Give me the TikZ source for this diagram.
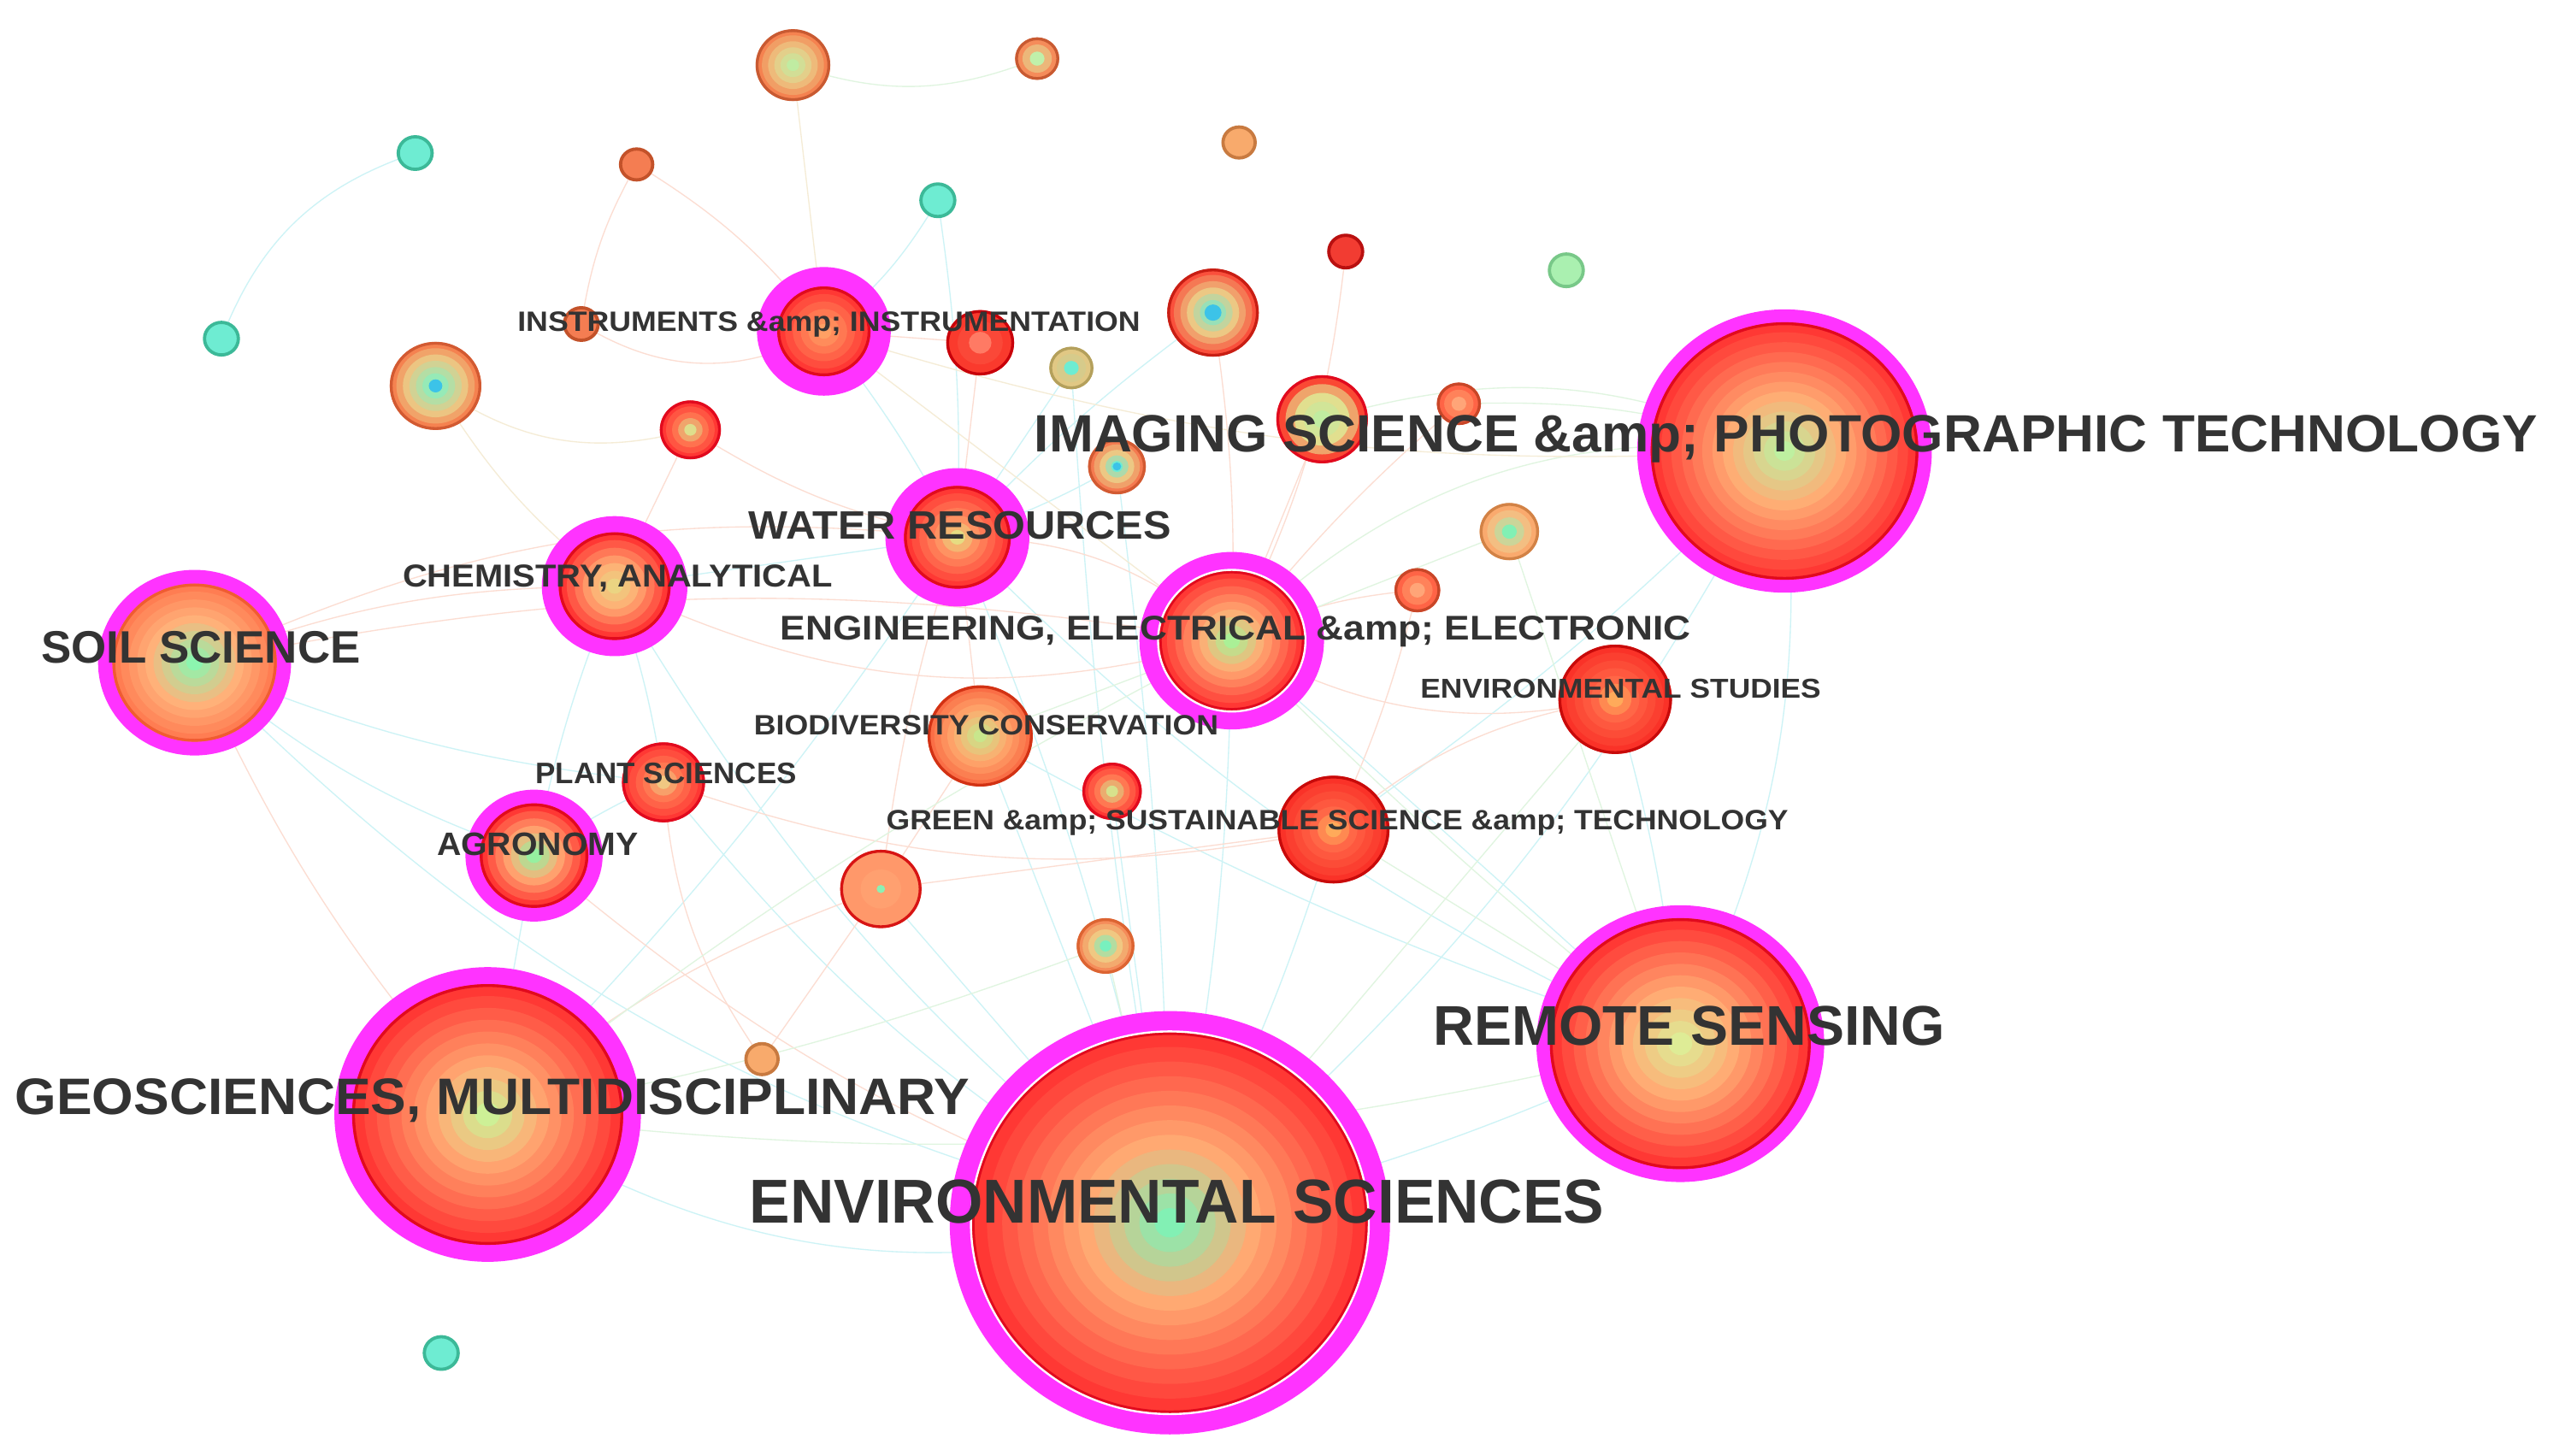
\documentclass[tikz,border=0pt]{standalone}
\usepackage{fontspec}
\setmainfont{Liberation Sans}
\usepackage{graphicx}
\newdimen\pxu \pxu=0.2mm
\definecolor{mag}{RGB}{255,51,255}
\definecolor{txt}{RGB}{51,51,51}
\definecolor{ecy}{RGB}{205,243,246}
\definecolor{epk}{RGB}{252,221,210}
\definecolor{egr}{RGB}{224,245,224}
\definecolor{ebg}{RGB}{245,236,214}
\definecolor{cred}{RGB}{255,56,52}
\definecolor{cdred}{RGB}{225,10,30}
\definecolor{corg}{RGB}{255,120,82}
\definecolor{cpch}{RGB}{255,172,116}
\definecolor{cteal}{RGB}{110,236,210}
\definecolor{cblue}{RGB}{60,195,232}
\definecolor{tealb}{RGB}{60,185,152}
\definecolor{orgA}{RGB}{244,125,82}
\definecolor{orgAb}{RGB}{195,82,42}
\definecolor{lorg}{RGB}{248,170,108}
\definecolor{lorgb}{RGB}{200,122,64}
\definecolor{rsol}{RGB}{242,60,50}
\definecolor{rsolb}{RGB}{185,16,16}
\definecolor{lgr}{RGB}{170,240,176}
\definecolor{lgrb}{RGB}{120,200,136}
\definecolor{aA}{RGB}{245,140,90}
\definecolor{aB}{RGB}{245,172,112}
\definecolor{aC}{RGB}{192,240,170}
\definecolor{aD}{RGB}{200,90,50}
\definecolor{bA}{RGB}{245,130,80}
\definecolor{bB}{RGB}{236,200,132}
\definecolor{bC}{RGB}{192,236,162}
\definecolor{tanA}{RGB}{225,200,132}
\definecolor{tanAb}{RGB}{180,160,92}
\definecolor{rA}{RGB}{250,58,45}
\definecolor{rB}{RGB}{250,72,56}
\definecolor{rC}{RGB}{255,122,100}
\definecolor{rD}{RGB}{200,0,10}
\definecolor{cA}{RGB}{250,80,60}
\definecolor{cD}{RGB}{200,30,20}
\definecolor{dA}{RGB}{245,122,80}
\definecolor{dD}{RGB}{210,90,50}
\definecolor{yelA}{RGB}{222,222,140}
\definecolor{tealg}{RGB}{120,245,200}
\definecolor{eA}{RGB}{250,72,52}
\definecolor{eB}{RGB}{232,220,140}
\definecolor{eC}{RGB}{192,236,160}
\definecolor{fA}{RGB}{255,100,70}
\definecolor{fB}{RGB}{255,130,90}
\definecolor{fC}{RGB}{255,165,120}
\definecolor{fD}{RGB}{200,70,40}
\definecolor{gA}{RGB}{250,170,110}
\definecolor{gB}{RGB}{240,200,140}
\definecolor{gC}{RGB}{130,240,180}
\definecolor{gD}{RGB}{210,130,70}
\definecolor{yelB}{RGB}{215,225,140}
\definecolor{hC}{RGB}{120,240,190}
\definecolor{hD}{RGB}{220,100,50}
\definecolor{pA}{RGB}{255,152,106}
\definecolor{pB}{RGB}{255,154,108}
\definecolor{pC}{RGB}{255,160,112}
\definecolor{pD}{RGB}{215,20,20}
\definecolor{pG}{RGB}{140,240,180}
\definecolor{yelC}{RGB}{240,200,130}
\definecolor{iA}{RGB}{250,110,70}
\definecolor{iB}{RGB}{255,170,110}
\definecolor{iC}{RGB}{200,230,140}
\definecolor{iD}{RGB}{210,50,20}
\definecolor{jA}{RGB}{250,50,40}
\definecolor{jB}{RGB}{255,100,70}
\definecolor{jC}{RGB}{255,170,90}
\definecolor{jD}{RGB}{200,10,10}
\definecolor{kC}{RGB}{255,160,100}
\definecolor{mAgr}{RGB}{150,240,160}
\definecolor{mChem}{RGB}{235,212,130}
\definecolor{wB}{RGB}{255,150,100}
\definecolor{wC}{RGB}{230,220,130}
\definecolor{mEng}{RGB}{170,240,150}
\definecolor{sA}{RGB}{255,125,82}
\definecolor{sB}{RGB}{255,178,122}
\definecolor{sC}{RGB}{140,245,175}
\definecolor{sD}{RGB}{240,92,50}
\definecolor{mGeo}{RGB}{205,240,150}
\definecolor{mRs}{RGB}{222,236,150}
\definecolor{mImg}{RGB}{190,240,160}
\definecolor{mEs}{RGB}{130,240,180}
\newcommand\cdisc[8]{%
  \foreach \cdk in {1,...,#6}{%
    \pgfmathsetmacro\cdu{1-(\cdk-1)/#6}%
    \pgfmathsetmacro\cdv{1-(\cdk-1)/(#6-1)}%
    \pgfmathsetmacro\cdry{#2*\cdu*0.2}%
    \pgfmathsetmacro\cdrx{\cdry*1.04}%
    \ifdim\cdv pt<#7pt
      \pgfmathsetmacro\cdp{100*\cdv/#7}%
      \fill[#4!\cdp!#5] (#1) ellipse [x radius=\cdrx mm, y radius=\cdry mm];%
    \else
      \pgfmathsetmacro\cdp{100*(\cdv-#7)/(1-#7)}%
      \fill[#3!\cdp!#4] (#1) ellipse [x radius=\cdrx mm, y radius=\cdry mm];%
    \fi
  }%
  \pgfmathsetmacro\cdry{(#2-0.8)*0.2}\pgfmathsetmacro\cdrx{\cdry*1.04}%
  \draw[#8, line width=0.35mm] (#1) ellipse [x radius=\cdrx mm, y radius=\cdry mm];%
}
\newcommand\sdisc[4]{%
  \pgfmathsetmacro\cdry{(#2-1)*0.2}\pgfmathsetmacro\cdrx{\cdry*1.04}%
  \filldraw[fill=#3, draw=#4, line width=0.4mm] (#1) ellipse [x radius=\cdrx mm, y radius=\cdry mm];}
\newcommand\magring[2]{%
  \pgfmathsetmacro\cdry{#2*0.2}\pgfmathsetmacro\cdrx{\cdry*1.04}%
  \fill[mag] (#1) ellipse [x radius=\cdrx mm, y radius=\cdry mm];}
\newcommand\whiteline[2]{%
  \pgfmathsetmacro\cdry{#2*0.2}\pgfmathsetmacro\cdrx{\cdry*1.04}%
  \draw[white, line width=0.25mm] (#1) ellipse [x radius=\cdrx mm, y radius=\cdry mm];}
\newcommand\cendot[3]{%
  \pgfmathsetmacro\cdry{#2*0.2}\pgfmathsetmacro\cdrx{\cdry*1.04}%
  \fill[#3] (#1) ellipse [x radius=\cdrx mm, y radius=\cdry mm];}
\newcommand\mylbl[3]{\resizebox{#1\pxu}{#2\pxu}{\bfseries #3}}
\begin{document}
\begin{tikzpicture}[x=0.2mm,y=-0.2mm,
  lab/.style={anchor=base west, inner sep=0pt, text=txt},
  edge/.style={line width=0.4pt}]
\useasboundingbox (0,0) rectangle (1568,894);
\fill[white] (0,0) rectangle (1568,894);
% ---------- node centres ----------
\coordinate (es) at (718.5,751);
\coordinate (img) at (1096,277);
\coordinate (rs) at (1032,641);
\coordinate (geo) at (299.5,684.5);
\coordinate (soil) at (119.5,407);
\coordinate (eng) at (756.5,393.5);
\coordinate (wat) at (588,330);
\coordinate (chem) at (377.5,360);
\coordinate (agr) at (328,525.5);
\coordinate (inst) at (506,203.5);
\coordinate (envst) at (992,429.5);
\coordinate (grn) at (819,509.5);
\coordinate (bio) at (602,452);
\coordinate (plant) at (407.5,480.5);
\coordinate (n540) at (541,546);
\coordinate (n683) at (683,486);
\coordinate (n679) at (679,581);
\coordinate (o468) at (468,650.5);
\coordinate (t271) at (271,831);
\coordinate (n811) at (812,257.5);
\coordinate (n926) at (927,326.5);
\coordinate (n870) at (870.5,362.5);
\coordinate (n896) at (896,248);
\coordinate (n685) at (686,286.5);
\coordinate (n743) at (745,192);
\coordinate (n657) at (658,226);
\coordinate (n601) at (602,210.5);
\coordinate (n424) at (424,264);
\coordinate (n266) at (267.5,237);
\coordinate (s356) at (357,199);
\coordinate (t136) at (136,208);
\coordinate (t255) at (255,94);
\coordinate (o391) at (391,101);
\coordinate (n487) at (487,40);
\coordinate (n636) at (637,36);
\coordinate (o760) at (761,87.5);
\coordinate (t575) at (576,123);
\coordinate (r825) at (826.5,154.5);
\coordinate (g961) at (962,166);
% ---------- edges ----------
\foreach \a/\b/\bd in {t136/t255/25, t575/wat/5, soil/agr/-10, soil/plant/-8, soil/es/-15,
  chem/es/-10, chem/plant/5, chem/agr/-5, agr/plant/5, agr/geo/0, geo/es/-22, geo/wat/-5,
  eng/es/5, img/rs/15, img/es/10, envst/rs/5, grn/es/5, n685/wat/5, n657/wat/0, n743/wat/-5,
  inst/wat/5, t575/inst/10, bio/es/0, n683/es/0, plant/es/-10, wat/es/5, rs/es/5, n540/es/0,
  chem/wat/0, img/grn/5, eng/rs/0, wat/rs/-10, bio/rs/-5, n685/es/3, n657/es/-3}
  \draw[edge, ecy] (\a) to[bend left=\bd] (\b);
\foreach \a/\b/\bd in {o391/s356/-10, o391/inst/10, s356/inst/-30, r825/eng/10, soil/geo/-8,
  soil/chem/10, soil/wat/15, soil/eng/10, chem/n424/0, agr/es/-10, o468/n540/0, o468/plant/15,
  n540/wat/5, n540/bio/0, bio/wat/0, eng/envst/-20, grn/envst/15, n870/eng/-10, n743/eng/5,
  n601/wat/0, n601/inst/0, n424/wat/-10, wat/eng/20, n811/eng/0, n896/eng/-5, chem/eng/-20,
  plant/grn/-15, n540/grn/0, geo/n540/10, n870/grn/5}
  \draw[edge, epk] (\a) to[bend left=\bd] (\b);
\foreach \a/\b/\bd in {n487/n636/-20, eng/img/25, geo/rs/-10, geo/eng/5, n679/geo/5, n679/es/0,
  grn/rs/0, envst/es/0, n926/eng/0, rs/eng/3, n896/img/10, n811/img/20, n926/rs/0, bio/eng/0}
  \draw[edge, egr] (\a) to[bend left=\bd] (\b);
\foreach \a/\b/\bd in {n266/n424/-25, n487/inst/0, n266/chem/-10, inst/img/-10, inst/eng/0}
  \draw[edge, ebg] (\a) to[bend left=\bd] (\b);
% ---------- small solid nodes ----------
\sdisc{t136}{11}{cteal}{tealb}
\sdisc{t255}{11}{cteal}{tealb}
\sdisc{t575}{11}{cteal}{tealb}
\sdisc{t271}{11}{cteal}{tealb}
\sdisc{o391}{10.5}{orgA}{orgAb}
\sdisc{s356}{11}{orgA}{orgAb}
\sdisc{o760}{10.5}{lorg}{lorgb}
\sdisc{o468}{10.5}{lorg}{lorgb}
\sdisc{r825}{11}{rsol}{rsolb}
\sdisc{g961}{11}{lgr}{lgrb}
% ---------- ringed small/medium nodes ----------
\cdisc{n636}{13}{aA}{aB}{aC}{3}{0.6}{aD}
\cdisc{n487}{22}{bA}{bB}{bC}{6}{0.5}{aD}
\cdisc{n657}{13}{tanA}{tanA}{cteal}{3}{0.55}{tanAb}
\cdisc{n601}{20}{rA}{rB}{rC}{3}{0.5}{rD}
\cdisc{n743}{27}{cA}{bB}{cteal}{7}{0.5}{cD}
\cendot{n743}{5}{cblue}
\cdisc{n685}{17}{dA}{bB}{cteal}{5}{0.5}{dD}
\cendot{n685}{2.5}{cblue}
\cdisc{n424}{18}{cred}{corg}{yelA}{5}{0.45}{cdred}
\cdisc{n266}{27}{bA}{bB}{tealg}{7}{0.65}{dD}
\cendot{n266}{4}{cblue}
\cdisc{n811}{27}{eA}{eB}{eC}{5}{0.6}{cdred}
\cdisc{n896}{13}{fA}{fB}{fC}{3}{0.5}{fD}
\cdisc{n870}{13.5}{fA}{fB}{fC}{3}{0.5}{fD}
\cdisc{n926}{17.5}{gA}{gB}{gC}{4}{0.5}{gD}
\cdisc{n683}{17.5}{cred}{corg}{yelB}{5}{0.5}{cdred}
\cdisc{n679}{17}{aA}{yelC}{hC}{5}{0.5}{hD}
\cdisc{n540}{24}{pA}{pB}{pC}{2}{0.5}{pD}
\cendot{n540}{2.5}{pG}
\cdisc{plant}{24.5}{cred}{corg}{yelC}{6}{0.4}{cdred}
\cdisc{bio}{31}{iA}{iB}{iC}{8}{0.5}{iD}
\cdisc{grn}{33}{jA}{jB}{jC}{7}{0.35}{jD}
\cdisc{envst}{33.5}{jA}{jB}{jC}{7}{0.35}{jD}
% ---------- magenta (central) nodes ----------
\magring{inst}{39.5}
\cdisc{inst}{27.5}{cred}{corg}{kC}{6}{0.4}{cdred}
\magring{agr}{40.5}
\cdisc{agr}{32}{cred}{cpch}{mAgr}{7}{0.45}{cdred}
\magring{chem}{43}
\cdisc{chem}{33}{cred}{cpch}{mChem}{7}{0.4}{cdred}
\magring{wat}{42.5}
\cdisc{wat}{31.5}{cred}{wB}{wC}{7}{0.3}{cdred}
\magring{eng}{54.5}
\cdisc{eng}{43}{cred}{cpch}{mEng}{9}{0.4}{cdred}
\whiteline{eng}{43.5}
\magring{soil}{57}
\cdisc{soil}{48.5}{sA}{sB}{sC}{10}{0.55}{sD}
\magring{geo}{90.5}
\cdisc{geo}{80}{cred}{cpch}{mGeo}{11}{0.35}{cdred}
\magring{rs}{85}
\cdisc{rs}{77}{cred}{cpch}{mRs}{11}{0.4}{cdred}
\magring{img}{87}
\cdisc{img}{79}{cred}{cpch}{mImg}{13}{0.42}{cdred}
\magring{es}{130}
\cdisc{es}{117}{cred}{cpch}{mEs}{13}{0.4}{cdred}
\whiteline{es}{117.5}
% ---------- labels ----------
\node[lab] (l-es) at (460,751.4) {\mylbl{525}{26.6}{ENVIRONMENTAL SCIENCES}};
\node[lab] (l-img) at (635,277.5) {\mylbl{923}{22.5}{IMAGING SCIENCE \&amp; PHOTOGRAPHIC TECHNOLOGY}};
\node[lab] (l-rs) at (880,642) {\mylbl{314}{24}{REMOTE SENSING}};
\node[lab] (l-geo) at (9,684.5) {\mylbl{586}{22}{GEOSCIENCES, MULTIDISCIPLINARY}};
\node[lab] (l-soil) at (25,407) {\mylbl{196}{19.5}{SOIL SCIENCE}};
\node[lab] (l-wat) at (459.6,331) {\mylbl{259.4}{17}{WATER RESOURCES}};
\node[lab] (l-eng) at (479,393) {\mylbl{559}{14.7}{ENGINEERING, ELECTRICAL \&amp; ELECTRONIC}};
\node[lab] (l-chem) at (247,360.4) {\mylbl{264}{13.6}{CHEMISTRY, ANALYTICAL}};
\node[lab] (l-inst) at (317.5,203.4) {\mylbl{382.5}{12}{INSTRUMENTS \&amp; INSTRUMENTATION}};
\node[lab] (l-bio) at (462.7,451.5) {\mylbl{285.3}{12}{BIODIVERSITY CONSERVATION}};
\node[lab] (l-plant) at (328.7,481) {\mylbl{160.3}{12.7}{PLANT SCIENCES}};
\node[lab] (l-agr) at (268,525.6) {\mylbl{123.8}{13.9}{AGRONOMY}};
\node[lab] (l-grn) at (544,509.5) {\mylbl{554}{12}{GREEN \&amp; SUSTAINABLE SCIENCE \&amp; TECHNOLOGY}};
\node[lab] (l-envst) at (872,429) {\mylbl{246}{11.7}{ENVIRONMENTAL STUDIES}};
\end{tikzpicture}
\end{document}
